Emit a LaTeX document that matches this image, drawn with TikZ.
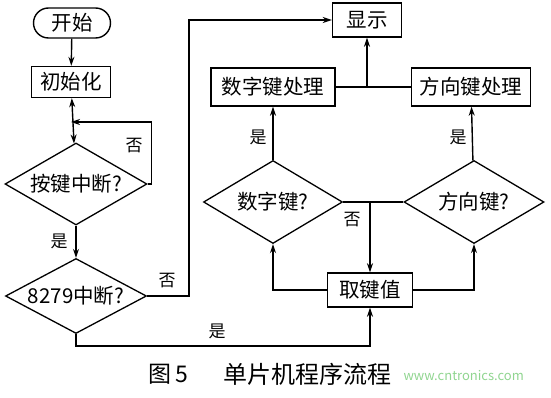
\documentclass[tikz,border=0pt]{standalone}
\usepackage{fontspec}
\setmainfont{Noto Sans CJK SC}
\usetikzlibrary{shapes.geometric,shapes.misc,arrows.meta}
\begin{document}
\begin{tikzpicture}[x=1pt,y=-1pt,
  every node/.style={font=\fontsize{20.5}{22}\selectfont},
  box/.style={draw,line width=1.4pt,inner sep=1pt},
  dia/.style={draw,line width=1.3pt,diamond,inner sep=0pt,shape aspect=1.8},
  conn/.style={line width=1.4pt},
  arr/.style={conn,-{Stealth[length=9pt,width=6pt]}},
  lbl/.style={font=\fontsize{17}{19}\selectfont}]
\useasboundingbox (0,0) rectangle (551,398);
\node[box,rounded rectangle,minimum width=79pt,minimum height=30pt] (start) at (72,23) {开始};
\node[box,minimum width=79pt,minimum height=31pt] (init) at (71,82) {初始化};
\node[dia,minimum width=142pt,minimum height=82pt] (d1) at (76,184) {按键中断?};
\node[dia,minimum width=141pt,minimum height=75pt] (d2) at (76,296) {8279中断?};
\node[box,minimum width=69pt,minimum height=34pt] (disp) at (367,20) {显示};
\node[box,minimum width=124pt,minimum height=38pt] (p1) at (273,87) {数字键处理};
\node[box,minimum width=119pt,minimum height=38pt] (p2) at (471,87) {方向键处理};
\node[dia,minimum width=139pt,minimum height=83pt] (q1) at (273,202) {数字键?};
\node[dia,minimum width=140pt,minimum height=83pt] (q2) at (474,202) {方向键?};
\node[box,minimum width=85pt,minimum height=34pt] (get) at (370,290) {取键值};
\coordinate (loopin) at (71,122);
% connectors
\draw[arr] (start) -- (init);
\draw[conn,{Stealth[length=9pt,width=6pt]}-{Stealth[length=9pt,width=6pt]}] (init) -- (d1);
\draw[arr] (d1.east) -- ++(4,0) |- (loopin);
\draw[arr] (d1) -- (d2);
\draw[arr] (d2.east) -- ++(42,0) |- (disp.west);
\draw[arr] (d2.south) -- ++(0,12) -| (get.south);
\draw[conn] (p1.east) -- (p2.west);
\draw[arr] (p1.east -| disp.south) -- (disp.south);
\draw[arr] (q1) -- (p1);
\draw[arr] (q2) -- (p2);
\draw[conn] (q1.east) -- (q2.west);
\draw[arr] (q1.east -| get.north) -- (get.north);
\draw[arr] (get.west) -| (q1.south);
\draw[arr] (get.east) -| (q2.south);
% labels
\node[lbl] (l1) at (134,146) {否};
\node[lbl] (l2) at (59,241) {是};
\node[lbl] (l3) at (167,281) {否};
\node[lbl] (l4) at (217,331) {是};
\node[lbl] (l5) at (258,137) {是};
\node[lbl] (l6) at (458,137) {是};
\node[lbl] (l7) at (352,220) {否};
% caption
\node[font=\fontsize{23}{25}\selectfont] (cap1) at (168,374) {图\,5};
\node[font=\fontsize{24}{26}\selectfont] (cap2) at (307,374) {单片机程序流程};
\node[font=\fontsize{13}{15}\selectfont,text=green!45!gray!60,anchor=west] (wm) at (400,376) {www.cntronics.com};
\end{tikzpicture}
\end{document}
